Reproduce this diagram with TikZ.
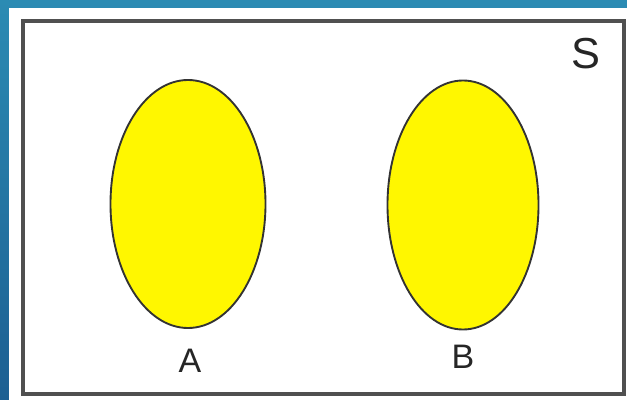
\documentclass[tikz,border=0pt]{standalone}
\usepackage{fontspec}
\setmainfont{Liberation Sans}
\usepackage{tikz}
\usetikzlibrary{shapes.geometric, positioning}
\usepackage{xcolor}
\definecolor{slideblue}{HTML}{2B8BB3}
\definecolor{slidedeep}{HTML}{1C5F92}
\definecolor{frameline}{HTML}{505050}
\definecolor{setyellow}{HTML}{FFF700}

\begin{document}
\begin{tikzpicture}[x=0.03cm, y=-0.03cm,
  setshape/.style={ellipse, draw=black!80, fill=setyellow, line width=1.6pt, inner sep=0pt},
  setname/.style={font=\fontsize{29}{29}\selectfont, inner sep=0pt, text=black!85}]
  \useasboundingbox (0,0) rectangle (627,400);
  \shade[top color=slideblue, bottom color=slidedeep] (0,0) rectangle (627,400);
  \fill[white] (9,8) rectangle (627,400);
  \draw[frameline, line width=2.6pt] (23,21) rectangle (624,394);
  \node[setname, font=\fontsize{37}{37}\selectfont] (s) at (586,54) {S};
  \node[setshape, minimum width=155*0.03cm, minimum height=248*0.03cm] (seta) at (188,204) {};
  \node[setshape, minimum width=151*0.03cm, minimum height=249*0.03cm] (setb) at (463,205) {};
  \node[setname] (labela) at (190,361) {A};
  \node[setname] (labelb) at (463,357) {B};
\end{tikzpicture}
\end{document}
